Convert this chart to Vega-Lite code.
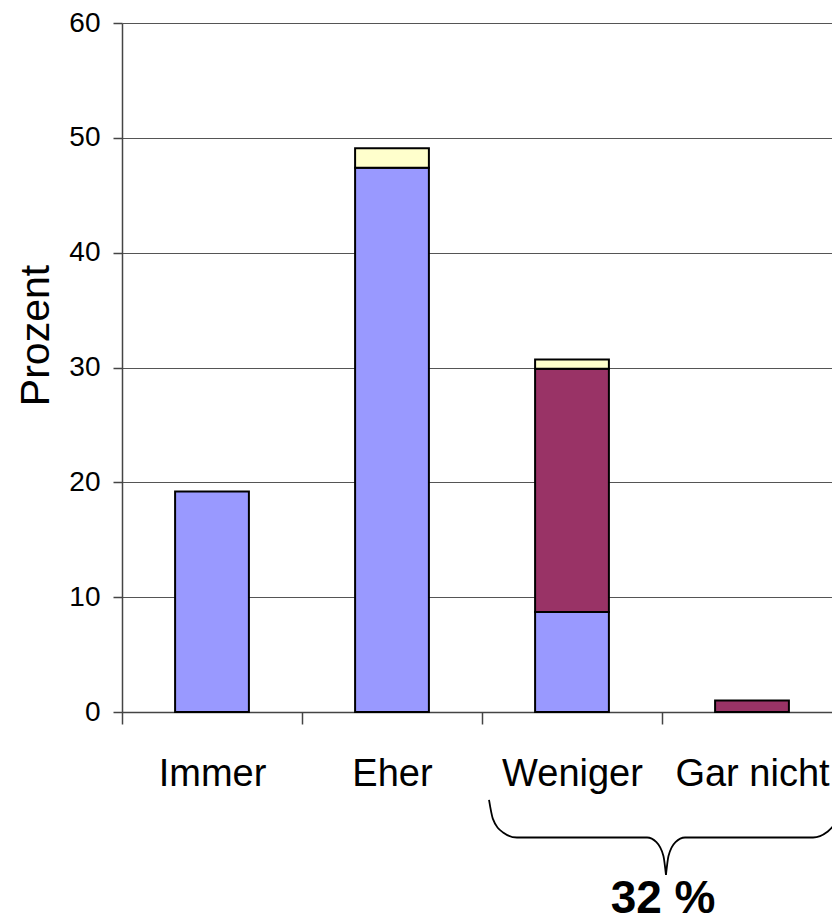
{
  "$schema": "https://vega.github.io/schema/vega-lite/v6.json",
  "width": 710,
  "height": 689,
  "autosize": {"type": "none"},
  "padding": {"left": 122, "top": 23, "right": 0, "bottom": 207},
  "background": "white",
  "config": {"view": {"stroke": null}, "font": "Liberation Sans"},
  "datasets": {
    "bars": [
      {"cat": "Immer", "series": "A", "k": 1, "value": 19.2},
      {"cat": "Eher", "series": "A", "k": 1, "value": 47.4},
      {"cat": "Eher", "series": "C", "k": 3, "value": 1.7},
      {"cat": "Weniger", "series": "A", "k": 1, "value": 8.7},
      {"cat": "Weniger", "series": "B", "k": 2, "value": 21.2},
      {"cat": "Weniger", "series": "C", "k": 3, "value": 0.8},
      {"cat": "Gar nicht", "series": "B", "k": 2, "value": 1.0}
    ],
    "brace": [
      {"side": "L", "i": 1, "u": 2.039, "v": -7.66},
      {"side": "L", "i": 2, "u": 2.060, "v": -9.28},
      {"side": "L", "i": 3, "u": 2.117, "v": -10.49},
      {"side": "L", "i": 4, "u": 2.194, "v": -10.93},
      {"side": "L", "i": 5, "u": 2.917, "v": -10.93},
      {"side": "L", "i": 6, "u": 2.969, "v": -11.33},
      {"side": "L", "i": 7, "u": 3.008, "v": -12.54},
      {"side": "L", "i": 8, "u": 3.022, "v": -14.19},
      {"side": "R", "i": 8, "u": 3.022, "v": -14.19},
      {"side": "R", "i": 9, "u": 3.036, "v": -12.54},
      {"side": "R", "i": 10, "u": 3.075, "v": -11.33},
      {"side": "R", "i": 11, "u": 3.128, "v": -10.93},
      {"side": "R", "i": 12, "u": 3.839, "v": -10.93},
      {"side": "R", "i": 13, "u": 3.917, "v": -10.45},
      {"side": "R", "i": 14, "u": 3.973, "v": -9.28},
      {"side": "R", "i": 15, "u": 3.994, "v": -7.66}
    ],
    "note": [
      {"u": 3.006, "v": -17.5, "label": "32 %"}
    ]
  },
  "layer": [
    {
      "data": {"name": "bars"},
      "mark": {"type": "bar", "stroke": "black", "strokeWidth": 2, "width": {"band": 0.41}},
      "encoding": {
        "x": {
          "field": "cat", "type": "nominal",
          "sort": ["Immer", "Eher", "Weniger", "Gar nicht"],
          "scale": {"range": [0, 720], "paddingInner": 0, "paddingOuter": 0},
          "axis": {
            "title": null, "labelAngle": 0, "labelFontSize": 38, "labelColor": "black",
            "labelPadding": 31, "labelBaseline": "top", "labelOverlap": false, "labelLimit": 400,
            "tickSize": 12, "tickBand": "extent", "tickColor": "#444", "tickWidth": 1.5,
            "domainColor": "#444", "domainWidth": 1.5, "grid": false
          }
        },
        "y": {
          "field": "value", "type": "quantitative", "stack": "zero",
          "scale": {"domain": [0, 60], "nice": false},
          "axis": {
            "title": "Prozent", "values": [0, 10, 20, 30, 40, 50, 60],
            "grid": true, "gridColor": "#555", "gridWidth": 1,
            "domainColor": "#444", "domainWidth": 1.5,
            "tickColor": "#444", "tickSize": 9, "tickWidth": 1.5,
            "labelFontSize": 28, "labelColor": "black", "labelPadding": 13,
            "titleFontSize": 41, "titleFontWeight": "normal", "titleColor": "black",
            "titleX": -74, "titleY": 312, "titleBaseline": "alphabetic",
            "titleAngle": -90, "titleAlign": "center"
          }
        },
        "color": {
          "field": "series", "type": "nominal",
          "scale": {"domain": ["A", "B", "C"], "range": ["#9999FF", "#993366", "#FFFFCC"]},
          "legend": null
        },
        "order": {"field": "k", "type": "quantitative"}
      }
    },
    {
      "layer": [
        {
          "data": {"name": "brace"},
          "mark": {"type": "line", "interpolate": "monotone", "stroke": "black", "strokeWidth": 1.8},
          "encoding": {
            "x": {"field": "u", "type": "quantitative", "scale": {"domain": [0, 4], "range": [0, 720], "nice": false, "zero": false}, "axis": null},
            "y": {"field": "v", "type": "quantitative", "scale": {"domain": [0, 60], "nice": false}, "title": "Prozent"},
            "detail": {"field": "side", "type": "nominal"},
            "order": {"field": "i", "type": "quantitative"}
          }
        },
        {
          "data": {"name": "note"},
          "mark": {"type": "text", "fontSize": 46, "fontWeight": "bold", "align": "center", "baseline": "alphabetic", "color": "black"},
          "encoding": {
            "x": {"field": "u", "type": "quantitative", "axis": null},
            "y": {"field": "v", "type": "quantitative", "title": "Prozent"},
            "text": {"field": "label", "type": "nominal"}
          }
        }
      ]
    }
  ],
  "resolve": {"scale": {"x": "independent"}}
}
